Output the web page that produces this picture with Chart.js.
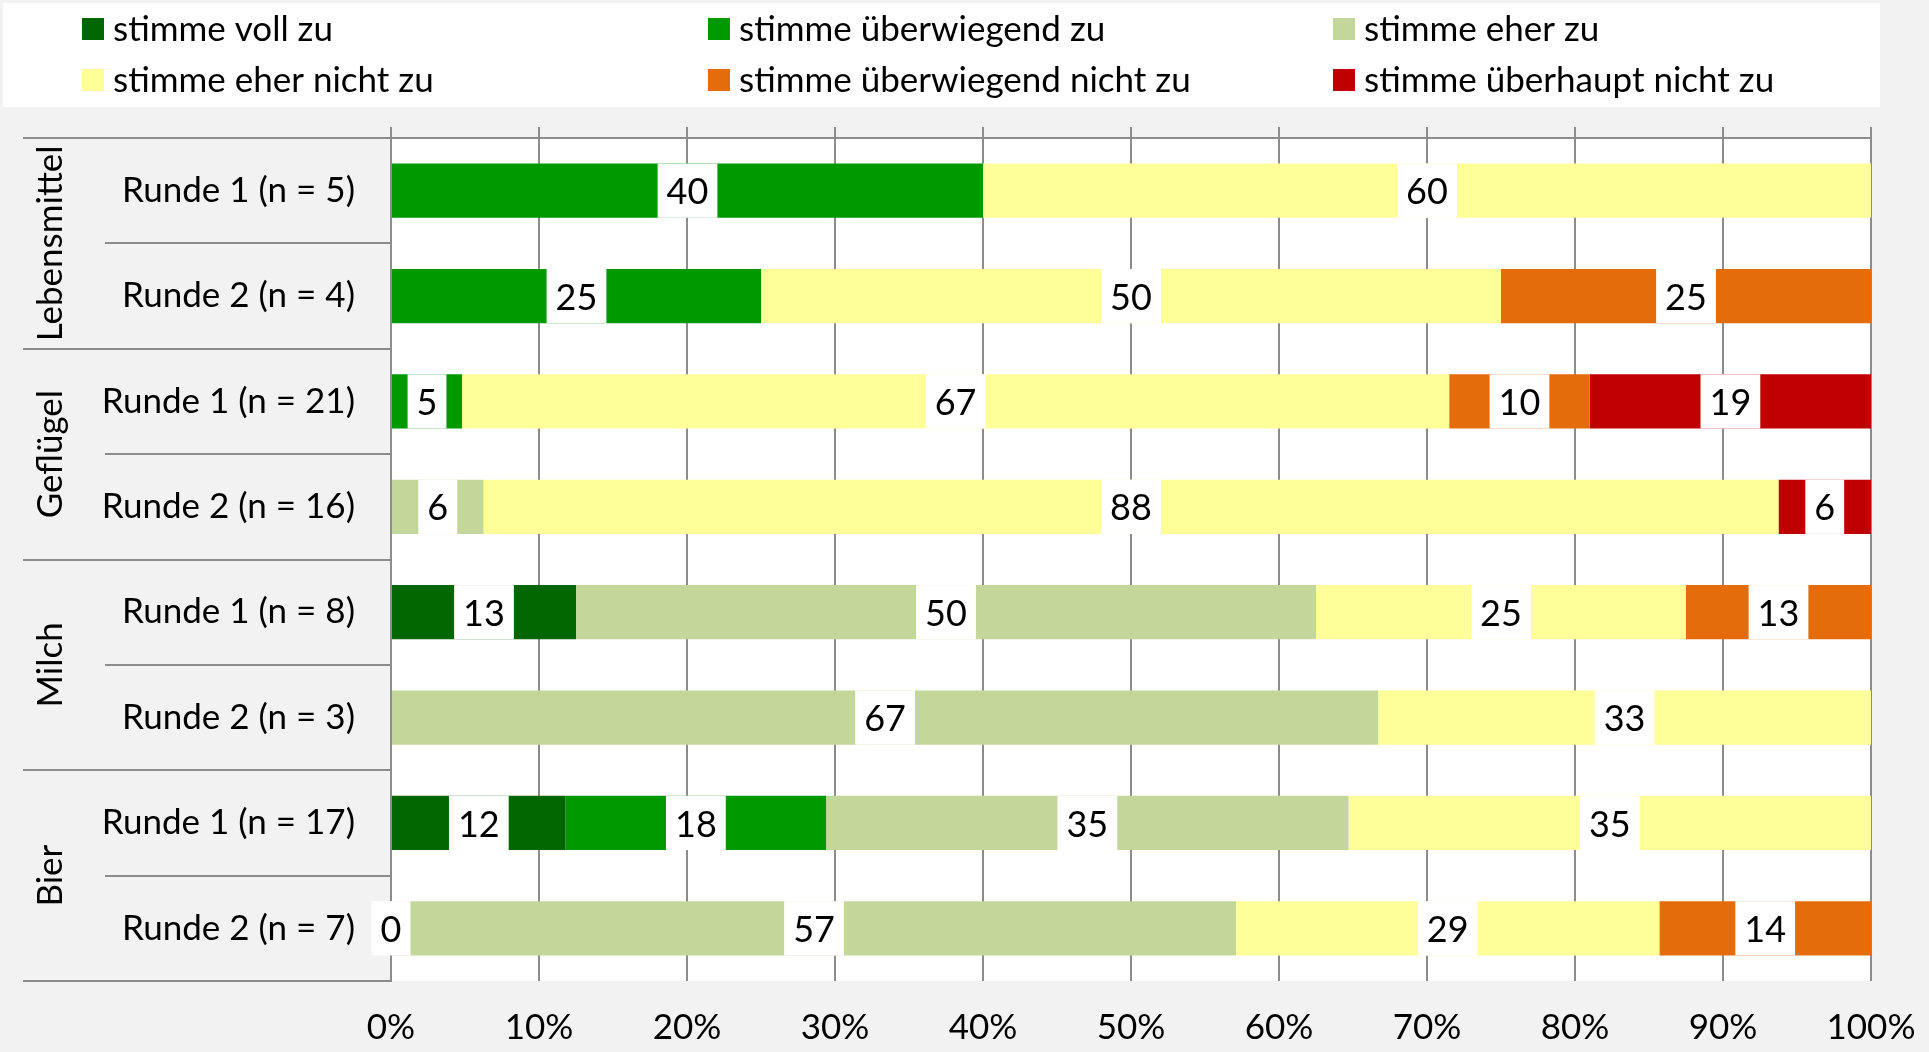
<!DOCTYPE html>
<html lang="de">
<head>
    <meta charset="UTF-8">
    <title>Zustimmung nach Runde</title>
    <style>
        body { margin: 0; background: #f2f2f2; }
        canvas { display: block; }
    </style>
</head>
<body>

    <canvas id="myChart" width="1929" height="1052"></canvas>

    <script src="https://cdn.jsdelivr.net/npm/chart.js"></script>

    <script>
        // categories, top row first
        const categories = [
            'Runde 1 (n = 5)', 'Runde 2 (n = 4)',
            'Runde 1 (n = 21)', 'Runde 2 (n = 16)',
            'Runde 1 (n = 8)', 'Runde 2 (n = 3)',
            'Runde 1 (n = 17)', 'Runde 2 (n = 7)'
        ];
        const groups = ['Lebensmittel', 'Geflügel', 'Milch', 'Bier'];
        const groupSize = [2, 2, 2, 2];

        // shares in percent
        const vollZu              = [null, null, null, null, 12.5, null, 11.8, 0];
        const ueberwiegendZu      = [40, 25, 4.8, null, null, null, 17.6, null];
        const eherZu              = [null, null, null, 6.25, 50, 66.7, 35.3, 57.1];
        const eherNichtZu         = [60, 50, 66.7, 87.5, 25, 33.3, 35.3, 28.6];
        const ueberwiegendNichtZu = [null, 25, 9.5, null, 12.5, null, null, 14.3];
        const ueberhauptNichtZu   = [null, null, 19.0, 6.25, null, null, null, null];

        const xTickLabels = ['0%', '10%', '20%', '30%', '40%', '50%', '60%', '70%', '80%', '90%', '100%'];

        const FONT = 'Lato';
        const FS = 35;
        const gridGray = '#8c8c8c';

        const ctx = document.getElementById('myChart');

        // background, white plot area and legend box
        const backgroundPlugin = {
            id: 'background',
            beforeDraw(chart) {
                const c = chart.ctx;
                const a = chart.chartArea;
                c.save();
                c.fillStyle = '#f2f2f2';
                c.fillRect(0, 0, chart.width, chart.height);
                c.fillStyle = '#ffffff';
                c.fillRect(a.left, a.top, a.right - a.left, a.bottom - a.top);
                c.fillRect(3, 3, 1877, 104);
                c.restore();
            }
        };

        // legend in three columns
        const legendPlugin = {
            id: 'gridLegend',
            afterDraw(chart) {
                const c = chart.ctx;
                const colX = [82, 708, 1333];
                const rowY = [29, 80];
                c.save();
                c.font = FS + 'px ' + FONT;
                c.textBaseline = 'middle';
                c.textAlign = 'left';
                chart.data.datasets.forEach((ds, i) => {
                    const x = colX[i % 3];
                    const y = rowY[Math.floor(i / 3)];
                    c.fillStyle = ds.backgroundColor;
                    c.fillRect(x, y - 11, 22, 22);
                    c.fillStyle = '#000';
                    c.fillText(ds.label, x + 31, y + 1);
                });
                c.restore();
            }
        };

        // white boxes with the rounded value in the middle of each segment
        const valueLabels = {
            id: 'valueLabels',
            afterDatasetsDraw(chart) {
                const c = chart.ctx;
                c.save();
                c.font = '36px ' + FONT;
                c.textAlign = 'center';
                c.textBaseline = 'middle';
                chart.data.datasets.forEach((ds, i) => {
                    const meta = chart.getDatasetMeta(i);
                    meta.data.forEach((el, j) => {
                        const v = ds.data[j];
                        if (v === null) return;
                        const txt = String(Math.round(v));
                        const cx = (el.x + el.base) / 2;
                        const w = c.measureText(txt).width + 18;
                        c.fillStyle = '#ffffff';
                        c.fillRect(cx - w / 2, el.y - el.height / 2, w, el.height);
                        c.fillStyle = '#000';
                        c.fillText(txt, cx, el.y + 2);
                    });
                });
                c.restore();
            }
        };

        // group labels and separator lines left of the axis
        const groupAxis = {
            id: 'groupAxis',
            afterDraw(chart) {
                const c = chart.ctx;
                const y = chart.scales.y;
                const a = chart.chartArea;
                const step = y.getPixelForValue(1) - y.getPixelForValue(0);
                const bounds = [a.top];
                for (let i = 1; i <= categories.length; i++) {
                    bounds.push(y.getPixelForValue(i - 1) + step / 2);
                }
                const groupEdges = [0];
                groupSize.forEach(n => groupEdges.push(groupEdges[groupEdges.length - 1] + n));

                c.save();
                c.strokeStyle = gridGray;
                c.lineWidth = 2;
                bounds.forEach((b, i) => {
                    c.beginPath();
                    c.moveTo(groupEdges.includes(i) ? 23 : 105, Math.round(b));
                    c.lineTo(a.left, Math.round(b));
                    c.stroke();
                });

                // rotated group names
                c.font = FS + 'px ' + FONT;
                c.fillStyle = '#000';
                c.textAlign = 'center';
                c.textBaseline = 'alphabetic';
                groups.forEach((name, k) => {
                    const top = bounds[groupEdges[k]];
                    const bottom = bounds[groupEdges[k + 1]];
                    c.save();
                    c.translate(62, (top + bottom) / 2);
                    c.rotate(-Math.PI / 2);
                    c.fillText(name, 0, 0);
                    c.restore();
                });
                c.restore();
            }
        };

        const colors = ['#006600', '#009900', '#c4d79b', '#ffff99', '#e46c0a', '#c00000'];

        new Chart(ctx, {
            type: 'bar',
            data: {
                labels: categories,
                datasets: [
                    { label: 'stimme voll zu', data: vollZu, backgroundColor: colors[0] },
                    { label: 'stimme überwiegend zu', data: ueberwiegendZu, backgroundColor: colors[1] },
                    { label: 'stimme eher zu', data: eherZu, backgroundColor: colors[2] },
                    { label: 'stimme eher nicht zu', data: eherNichtZu, backgroundColor: colors[3] },
                    { label: 'stimme überwiegend nicht zu', data: ueberwiegendNichtZu, backgroundColor: colors[4] },
                    { label: 'stimme überhaupt nicht zu', data: ueberhauptNichtZu, backgroundColor: colors[5] }
                ]
            },
            options: {
                indexAxis: 'y',
                responsive: false,
                animation: false,
                devicePixelRatio: 1,
                barPercentage: 0.515,
                categoryPercentage: 1,
                layout: { padding: { top: 127, left: 0, right: 58, bottom: 0 } },
                plugins: {
                    legend: { display: false },
                    tooltip: { enabled: false }
                },
                scales: {
                    x: {
                        stacked: true,
                        min: 0,
                        max: 100,
                        position: 'bottom',
                        ticks: {
                            stepSize: 10,
                            padding: 26,
                            color: '#000',
                            font: { family: FONT, size: FS },
                            maxRotation: 0,
                            callback: (v, i) => xTickLabels[i]
                        },
                        grid: { color: gridGray, lineWidth: 2, drawTicks: false },
                        border: { display: false },
                        afterFit: s => { s.height = 71; s.paddingLeft = 0; s.paddingRight = 0; }
                    },
                    xTop: {
                        axis: 'x',
                        type: 'linear',
                        min: 0,
                        max: 100,
                        position: 'top',
                        ticks: { stepSize: 10, callback: () => '' },
                        grid: { color: gridGray, lineWidth: 2, drawOnChartArea: false, drawTicks: true, tickLength: 11 },
                        border: { display: true, color: gridGray, width: 2 },
                        afterFit: s => { s.height = 11; s.paddingLeft = 0; s.paddingRight = 0; }
                    },
                    y: {
                        stacked: true,
                        ticks: {
                            padding: 36,
                            color: '#000',
                            font: { family: FONT, size: FS }
                        },
                        grid: { display: false, drawTicks: false },
                        border: { display: true, color: gridGray, width: 2 },
                        afterFit: s => { s.width = 391; }
                    }
                }
            },
            plugins: [backgroundPlugin, valueLabels, groupAxis, legendPlugin]
        });
    </script>

</body>
</html>
